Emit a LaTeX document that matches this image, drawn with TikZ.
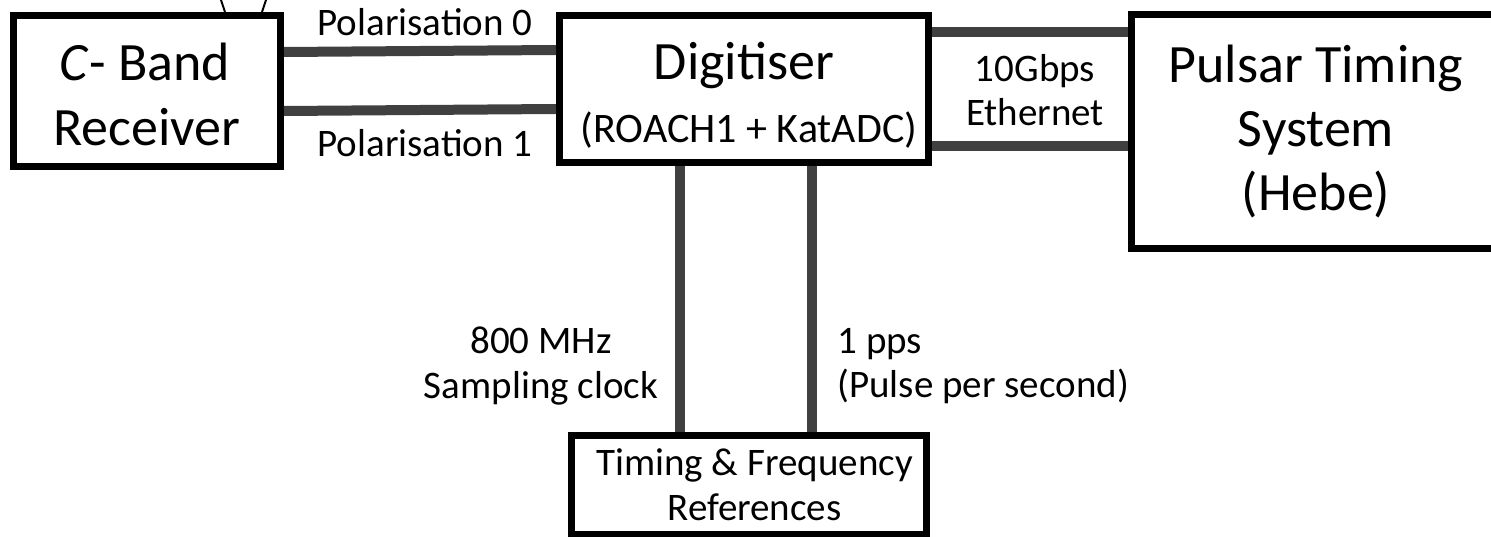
\documentclass[tikz,border=0pt]{standalone}
\usepackage{fontspec}
\setmainfont{Carlito}
\begin{document}
\begin{tikzpicture}[x=1pt,y=1pt,
  box/.style={draw=black, line width=7pt, fill=white, inner sep=0pt, align=center},
  link/.style={draw=black!75, line width=10pt},
  feed/.style={draw=black, line width=2pt},
  big/.style={font=\fontsize{54}{64}\selectfont, align=center},
  mid/.style={font=\fontsize{42}{50}\selectfont},
  small/.style={font=\fontsize{39}{44.5}\selectfont, align=center}]
\clip (0,0) rectangle (1491,-537);

% blocks
\node[box, minimum width=267pt, minimum height=151pt] (rx) at (147,-91) {};
\node[big] at (145,-62) {\textit{C}- Band};
\node[big] at (147,-127) {Receiver};

\node[box, minimum width=369pt, minimum height=147pt] (dig) at (744,-89) {};
\node[big] at (744,-65) {Digitiser};
\node[mid] at (749,-130) {(ROACH1 + KatADC)};

% the timing system block runs on past the right-hand edge
\node[box, minimum width=400pt, minimum height=233.5pt] (pts) at (1331.5,-131.75) {};
\node[big] at (1316,-131) {Pulsar Timing\\System\\(Hebe)};

\node[box, small, minimum width=355pt, minimum height=98.5pt] (ref) at (749,-484.75)
  {\hspace*{11pt}Timing \& Frequency\\\hspace*{11pt}References};

% feed horn above the receiver
\coordinate (hornL) at (221,0);
\coordinate (hornR) at (266,0);
\draw[feed] (hornL) -- ([xshift=78pt]rx.north);
\draw[feed] (hornR) -- ([xshift=115pt]rx.north);

% signal paths
\draw[link] ([yshift=39pt]rx.east) -- ([yshift=39pt]dig.west);
\draw[link] ([yshift=-20pt]rx.east) -- ([yshift=-20pt]dig.west);
\draw[link] ([yshift=57pt]dig.east) -- ([yshift=99.75pt]pts.west);
\draw[link] ([yshift=-57pt]dig.east) -- ([yshift=-14.25pt]pts.west);
\draw[link] ([xshift=-64pt]dig.south) -- ([xshift=-69pt]ref.north);
\draw[link] ([xshift=68pt]dig.south) -- ([xshift=63pt]ref.north);

% labels
\node[small] at (425,-22) {Polarisation 0};
\node[small] at (425,-143) {Polarisation 1};
\node[small] at (1035,-90) {10Gbps\\Ethernet};
\node[small] at (541,-366) {800 MHz\\Sampling clock};
\node[small, align=left, anchor=west] at (834,-366) {1 pps\\(Pulse per second)};
\end{tikzpicture}
\end{document}
